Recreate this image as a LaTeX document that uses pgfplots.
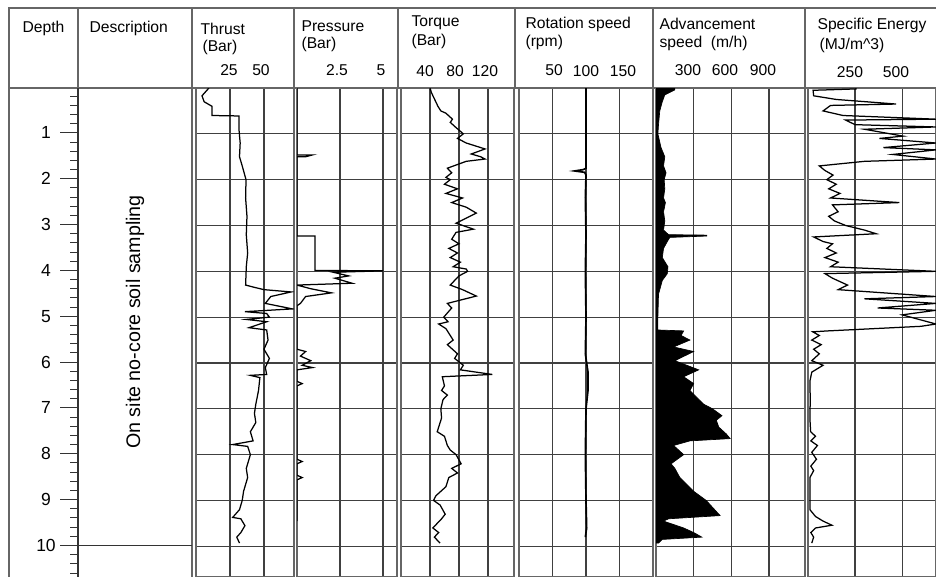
\documentclass[border=0pt]{standalone}
\usepackage{fontspec}
\setmainfont{Liberation Sans}
\usepackage{pgfplots}
\pgfplotsset{compat=1.18}
\def\u{0.6pt}
\pgfplotsset{track/.style={scale only axis, height=293.4pt, anchor=north west,
  y dir=reverse, ymin=0, ymax=10.67, ytick={0,...,10}, xmin=0,
  grid=major, major grid style={black!75, line width=0.7pt},
  axis line style={black!60, line width=0.9pt}, major tick length=0pt,
  xticklabels={}, yticklabels={}, clip=true},
  curve/.style={black, line width=0.75pt, mark=none}}
\begin{document}
\begin{tikzpicture}
\fontsize{9.4}{11}\selectfont
\path[use as bounding box] (0,0) rectangle (936*\u,-577*\u);
\begin{scope}[x=\u,y=-\u]
\draw[black!60, line width=1.2pt] (9,577)--(9,8)--(936,8);
\draw[black!60, line width=0.9pt] (9,88)--(936,88);
\foreach \xx in {78,192,294,398,515,653,805} \draw[black!60, line width=0.9pt] (\xx,8)--(\xx,88);
\draw[black!60, line width=0.9pt] (192,88)--(192,577);
\draw[black!80, line width=0.7pt] (78,88)--(78,577);
\draw[black!80, line width=0.7pt] (78,545.5)--(192,545.5);
\foreach \d in {0.2,0.4,...,10.61} \draw[black!80, line width=0.6pt] (70,87+45.85*\d)--(78,87+45.85*\d);
\foreach \d in {1,...,10} {\draw[black!80, line width=0.6pt] (60,87+45.85*\d)--(78,87+45.85*\d);
  \node at (46,87+45.85*\d) {\fontsize{10.5}{12}\selectfont\d};}
\node[rotate=90] at (135,322) {\fontsize{11.8}{13}\selectfont On site no-core soil sampling};
\node[anchor=west] at (17,28) {Depth};
\node[anchor=west] at (84,28) {Description};
\node[anchor=west] at (195,29) {Thrust};
\node[anchor=west] at (197,47) {(Bar)};
\node at (229,70) {25}; \node at (261,70) {50};
\node[anchor=west] at (296,26) {Pressure};
\node[anchor=west] at (296,44) {(Bar)};
\node at (337,70) {2.5}; \node at (381,70) {5};
\node[anchor=west] at (406,23) {Torque};
\node[anchor=west] at (406,41) {(Bar)};
\node at (425,71) {40}; \node at (455,71) {80}; \node at (485,71) {120};
\node[anchor=west] at (520,24) {Rotation speed};
\node[anchor=west] at (520,42) {(rpm)};
\node at (554,70) {50}; \node at (586,71) {100}; \node at (623,71) {150};
\node[anchor=west] at (654,24) {Advancement};
\node[anchor=west] at (654,43) {speed\ \ (m/h)};
\node at (688,70) {300}; \node at (725,70) {600}; \node at (763,70) {900};
\node[anchor=west] at (812,25) {Specific Energy};
\node[anchor=west] at (814,45) {(MJ/m\^{}3)};
\node at (850,72) {250}; \node at (896,72) {500};
\end{scope}

\begin{axis}[track, at={(196*\u,-88*\u)}, width=58.8pt, xmax=72.1, xtick={25,50}]
\addplot[curve] coordinates {(9.5,0)(4.4,0.17)(6,0.3)(11.8,0.4)(11.8,0.6)(31.6,0.61)(31.6,0.9)(32.5,1.2)(32,1.5)(34,1.7)(36.8,2.0)(36.5,2.4)(37.5,2.8)(37,3.2)(38,3.6)(37,3.9)(36.5,4.3)(43,4.35)(50,4.4)(70,4.45)(55,4.55)(51,4.7)(71,4.82)(36,4.88)(52,4.92)(54,5.0)(37,5.05)(52,5.1)(39,5.23)(52,5.28)(53,5.5)(50,5.7)(54,5.9)(51,6.1)(52,6.25)(40,6.27)(47,6.32)(46,6.6)(44,6.9)(43,7.1)(44,7.3)(40,7.5)(42,7.7)(27,7.78)(38,7.82)(40,8.0)(37,8.3)(38,8.5)(35,8.8)(34,9.0)(32,9.2)(27,9.37)(33,9.4)(36,9.55)(33,9.7)(30,9.8)(32,9.93)};
\end{axis}

\begin{axis}[track, at={(297*\u,-88*\u)}, width=60pt, xmax=5.81, xtick={2.5,5}]
\addplot[curve] coordinates {(0,0)(0,1.46)(0.9,1.46)(0.5,1.5)(0,1.5)(0,3.23)(1.05,3.23)(1.05,3.98)(5.0,3.99)(2.1,4.02)(3.0,4.1)(2.2,4.15)(3.2,4.26)(0,4.3)(0.8,4.38)(2.0,4.47)(0.5,4.55)(0.2,4.7)(0,4.75)(0,5.7)(0.5,5.75)(0.2,5.85)(0.8,5.95)(0.3,6.05)(0.9,6.1)(0,6.15)(0,6.4)(0.3,6.45)(0,6.5)(0,8.1)(0.3,8.15)(0,8.2)(0,8.45)(0.3,8.5)(0,8.55)(0,9.45)};
\end{axis}

\begin{axis}[track, at={(401*\u,-88*\u)}, width=67.8pt, xmax=156, xtick={40,80,120}]
\addplot[curve] coordinates {(40,0)(42,0.1)(45,0.2)(51,0.4)(55,0.5)(62,0.55)(71,0.68)(68,0.75)(75,0.85)(86,1.0)(78,1.1)(90,1.2)(116,1.33)(97,1.44)(110,1.5)(116,1.55)(90,1.6)(64,1.75)(70,1.85)(62,1.95)(68,2.0)(60,2.1)(78,2.2)(62,2.3)(85,2.4)(70,2.5)(90,2.6)(104,2.73)(76,2.95)(100,3.08)(76,3.15)(70,3.3)(80,3.4)(66,3.5)(78,3.6)(68,3.7)(82,3.8)(72,3.9)(90,3.95)(92,4.0)(80,4.1)(68,4.3)(85,4.4)(104,4.54)(64,4.7)(70,4.8)(59,5.0)(65,5.1)(52,5.15)(62,5.25)(68,5.4)(72,5.5)(64,5.6)(78,5.8)(74,5.9)(86,6.05)(82,6.15)(126,6.25)(57,6.3)(60,6.5)(56,6.6)(64,6.7)(58,6.8)(55,7.0)(56,7.2)(50,7.5)(60,7.6)(64,7.8)(68,7.9)(76,8.0)(83,8.2)(70,8.3)(78,8.4)(66,8.5)(62,8.7)(48,8.9)(45,9.0)(54,9.1)(61,9.3)(56,9.4)(44,9.6)(52,9.7)(46,9.8)(54,9.93)};
\end{axis}

\begin{axis}[track, at={(519*\u,-88*\u)}, width=80.4pt, xmax=200, xtick={50,100,150}]
\addplot[curve, line width=1pt] coordinates {(100,0)(100,1.75)(96,1.78)(83,1.81)(98,1.84)(100,1.9)(99,2.4)(100,3.2)(99,4)(100,5)(99,5.8)(103,6.2)(103,6.6)(100,7)(99,8)(100,9)(101,9.6)(99,9.8)};
\end{axis}

\begin{axis}[track, at={(656*\u,-88*\u)}, width=89.4pt, xmax=1186, xtick={300,600,900}]
\addplot[black, fill=black, line width=0.4pt] coordinates {(0,0)(150,0)(150,0.04)(70,0.15)(50,0.3)(30,0.5)(20,0.8)(15,1.0)(40,1.3)(70,1.5)(60,1.7)(80,1.85)(65,2.0)(70,2.2)(60,2.4)(75,2.5)(60,2.7)(70,2.9)(60,3.1)(100,3.2)(405,3.21)(405,3.23)(110,3.26)(90,3.35)(60,3.5)(50,3.7)(95,3.9)(90,4.05)(50,4.2)(40,4.3)(20,4.5)(15,5.0)(15,5.28)(220,5.3)(200,5.4)(270,5.5)(140,5.65)(300,5.75)(150,5.95)(340,6.15)(220,6.3)(300,6.45)(270,6.6)(380,6.9)(450,7.0)(525,7.15)(480,7.25)(500,7.4)(560,7.55)(590,7.65)(270,7.7)(140,7.8)(220,8.0)(120,8.2)(150,8.3)(190,8.5)(300,8.8)(400,9.0)(450,9.15)(510,9.33)(100,9.4)(60,9.45)(220,9.6)(300,9.7)(365,9.8)(50,9.85)(20,9.93)(0,9.93)} -- cycle;
\end{axis}

\begin{axis}[track, at={(808*\u,-88*\u)}, width=76.8pt, xmax=680, xtick={250,500}]
\addplot[curve] coordinates {(255,0)(255,0.02)(27,0.05)(30,0.17)(150,0.25)(468,0.35)(120,0.38)(80,0.5)(186,0.6)(680,0.68)(200,0.7)(250,0.8)(680,0.85)(300,0.9)(505,1.05)(380,1.1)(680,1.2)(400,1.3)(680,1.35)(450,1.45)(680,1.55)(300,1.6)(60,1.7)(90,1.8)(133,1.9)(100,2.0)(150,2.1)(110,2.2)(170,2.3)(120,2.4)(485,2.5)(130,2.55)(160,2.7)(110,2.8)(140,2.9)(200,3.0)(300,3.1)(362,3.18)(30,3.25)(80,3.35)(130,3.4)(100,3.5)(150,3.6)(90,3.7)(160,3.8)(120,3.9)(680,4.0)(90,4.05)(130,4.15)(210,4.3)(160,4.4)(680,4.55)(300,4.6)(680,4.7)(370,4.8)(680,4.85)(500,4.95)(680,5.15)(600,5.2)(106,5.3)(25,5.32)(60,5.4)(20,5.5)(70,5.6)(30,5.7)(60,5.8)(20,5.95)(80,6.05)(20,6.2)(10,6.4)(12,6.8)(10,7.2)(14,7.5)(40,7.6)(15,7.7)(50,7.8)(20,7.95)(45,8.1)(15,8.25)(30,8.35)(10,8.5)(10,9.2)(40,9.35)(80,9.45)(127,9.54)(40,9.6)(15,9.7)(30,9.8)(20,9.93)};
\end{axis}
\end{tikzpicture}
\end{document}
